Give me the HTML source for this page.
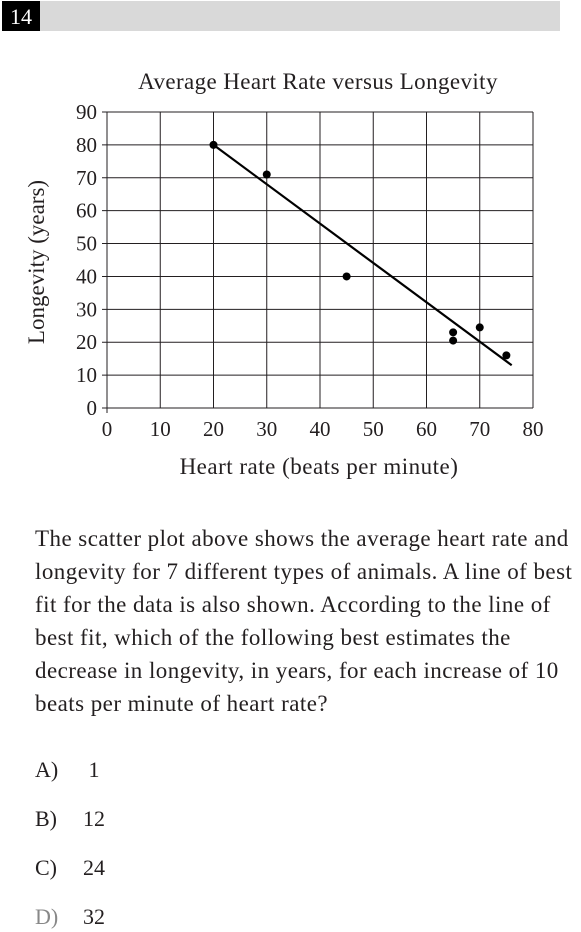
<!DOCTYPE html>
<html><head><meta charset="utf-8"><style>
body{margin:0;width:581px;height:932px;background:#fff;font-family:"Liberation Serif",serif;color:#231f20;position:relative;overflow:hidden}
.hdr{position:absolute;top:1px;left:2px;width:38px;height:30px;background:#000;color:#fff;font-size:22px;line-height:31px;text-align:center}
.bar{position:absolute;top:1px;left:40px;width:520px;height:30px;background:#d9d9d9}
.q{position:absolute;left:35px;top:522px;width:560px;font-size:23px;line-height:33px;letter-spacing:0.45px;white-space:nowrap}
.opt{position:absolute;left:35px;font-size:22px}
.opt span{position:absolute;left:48px}
</style></head><body>
<div class="hdr">14</div>
<div class="bar"></div>
<svg width="581" height="500" style="position:absolute;left:0;top:0" id="chart"></svg>
<div class="q">The scatter plot above shows the average heart rate and<br>longevity for 7 different types of animals. A line of best<br>fit for the data is also shown. According to the line of<br>best fit, which of the following best estimates the<br>decrease in longevity, in years, for each increase of 10<br>beats per minute of heart rate?</div>
<div class="opt" style="top:757px">A)<span>&nbsp;1</span></div>
<div class="opt" style="top:806px">B)<span>12</span></div>
<div class="opt" style="top:855px">C)<span>24</span></div>
<div class="opt" style="top:904px;color:#888">D)<span style="color:#231f20">32</span></div>
<script>
const xTicks=[0,10,20,30,40,50,60,70,80];
const yTicks=[0,10,20,30,40,50,60,70,80,90];
const heartRate=[20,30,45,65,65,70,75];
const longevity=[80,71,40,23,20.5,24.5,16];
const fitX=[20,76];
const fitY=[80,13];
const NS="http://www.w3.org/2000/svg";
const svg=document.getElementById('chart');
const X=v=>107+v*(533-107)/80, Y=v=>408-v*(408-112)/90;
function mk(t,a,txt){const e=document.createElementNS(NS,t);for(const k in a)e.setAttribute(k,a[k]);if(txt!=null)e.textContent=txt;svg.appendChild(e);return e;}
let e=mk('text',{x:318,y:89,'text-anchor':'middle','font-size':23,'letter-spacing':0.4,'font-family':'Liberation Serif,serif',fill:'#231f20'},'Average Heart Rate versus Longevity');


xTicks.forEach(t=>{
 const l=mk('line',{x1:X(t),x2:X(t),y1:112,y2:t===0?413:408,stroke:'#231f20','stroke-width':1});
 
 
 const tx=mk('text',{x:X(t),y:436,'text-anchor':'middle','font-size':21,'font-family':'Liberation Serif,serif',fill:'#231f20'},t);
 
 
});
yTicks.forEach(t=>{
 const l=mk('line',{x1:102,x2:533,y1:Y(t),y2:Y(t),stroke:'#231f20','stroke-width':1});
 
 
 const tx=mk('text',{x:97,y:Y(t)+7,'text-anchor':'end','font-size':21,'font-family':'Liberation Serif,serif',fill:'#231f20'},t);
 
 
});
const fl=mk('line',{x1:X(fitX[0]),y1:Y(fitY[0]),x2:X(fitX[1]),y2:Y(fitY[1]),stroke:'#000','stroke-width':2.2});


heartRate.forEach((h,i)=>{
 const c=mk('circle',{cx:X(h),cy:Y(longevity[i]),r:4,fill:'#000'});
 
 
});
e=mk('text',{x:319,y:474,'text-anchor':'middle','font-size':23,'letter-spacing':0.5,'font-family':'Liberation Serif,serif',fill:'#231f20'},'Heart rate (beats per minute)');


e=mk('text',{x:0,y:0,'text-anchor':'middle','font-size':23,'font-family':'Liberation Serif,serif',fill:'#231f20',transform:'translate(44,262) rotate(-90)'},'Longevity (years)');


</script>
</body></html>
